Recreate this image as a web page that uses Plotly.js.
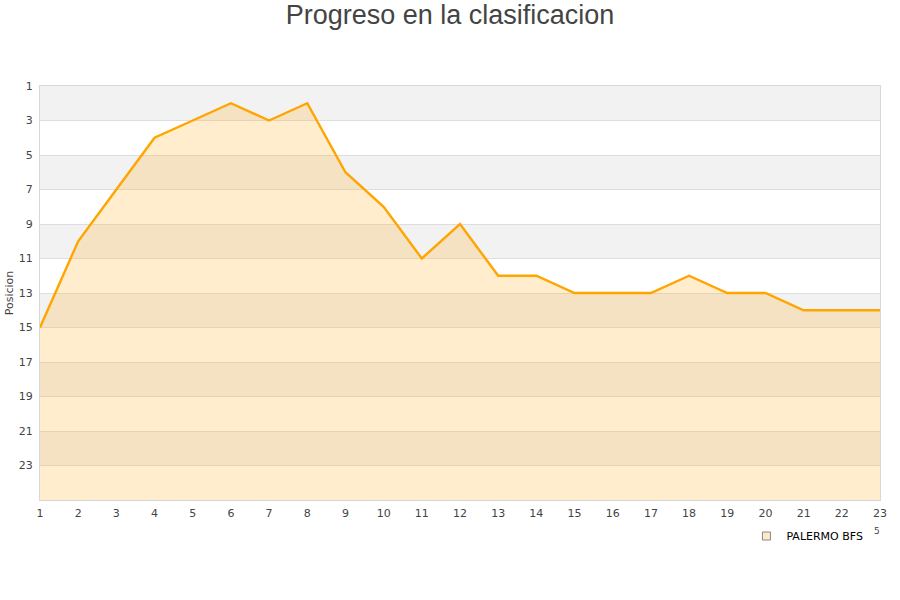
<!DOCTYPE html>
<html>
<head>
<meta charset="utf-8">
<script src="https://cdn.plot.ly/plotly-3.0.1.min.js"></script>
<style>
  html, body { margin: 0; padding: 0; background: #fff; }
  #chart { width: 900px; height: 600px; }
</style>
</head>
<body>
<div id="chart"></div>
<script>
// Jornadas y posiciones del equipo
const rounds = [1, 2, 3, 4, 5, 6, 7, 8, 9, 10, 11, 12, 13, 14, 15, 16, 17, 18, 19, 20, 21, 22, 23]
const positions = [15, 10, 7, 4, 3, 2, 3, 2, 6, 8, 11, 9, 12, 12, 13, 13, 13, 12, 13, 13, 14, 14, 14]
const teamName = "PALERMO BFS"
const yTicks = [1, 3, 5, 7, 9, 11, 13, 15, 17, 19, 21, 23]
const lastPosition = 25
const floorLine = [25, 25, 25, 25, 25, 25, 25, 25, 25, 25, 25, 25, 25, 25, 25, 25, 25, 25, 25, 25, 25, 25, 25]

// gray stripes every other band
const bands = []
for (let i = 0; i < yTicks.length; i += 2) {
    bands.push({
        type: "rect", xref: "paper", yref: "y", layer: "below",
        x0: 0, x1: 1, y0: yTicks[i], y1: yTicks[i] + 2,
        fillcolor: "#f2f2f2", line: { width: 0 }
    })
}

const base = {
    x: rounds,
    y: floorLine,
    type: "scatter",
    mode: "lines",
    line: { width: 0, color: "rgba(0,0,0,0)" },
    hoverinfo: "skip",
    showlegend: false
}

const trace = {
    x: rounds,
    y: positions,
    type: "scatter",
    mode: "lines",
    fill: "tonexty",
    fillcolor: "rgba(255,170,20,0.21)",
    line: { color: "#ffa500", width: 2.4 },
    name: teamName,
    showlegend: false
}

const legendItem = {
    x: [null],
    y: [null],
    type: "scatter",
    mode: "markers",
    name: teamName,
    marker: { symbol: "square", size: 8, color: "#fdebc8", line: { color: "#888", width: 1 } }
}

const layout = {
    width: 900,
    height: 600,
    paper_bgcolor: "#fff",
    plot_bgcolor: "#fff",
    font: { family: "DejaVu Sans, sans-serif", size: 11, color: "#444" },
    title: {
        text: "Progreso en la clasificacion",
        font: { family: "Liberation Sans, Arial, sans-serif", size: 27, color: "#444" },
        x: 0.5, xanchor: "center",
        y: 0.975, yref: "container", yanchor: "middle"
    },
    xaxis: {
        range: [1, 23],
        tickvals: rounds,
        showgrid: false,
        zeroline: false,
        showline: true,
        linecolor: "#d8d8d8",
        linewidth: 1,
        mirror: true,
        ticks: "",
        ticklabelstandoff: 3,
        tickfont: { size: 11, color: "#444" },
        fixedrange: true
    },
    yaxis: {
        range: [lastPosition, 1],
        tickvals: yTicks,
        showgrid: true,
        gridcolor: "#dedede",
        gridwidth: 1,
        zeroline: false,
        showline: true,
        linecolor: "#d8d8d8",
        linewidth: 1,
        mirror: true,
        ticks: "",
        ticklabelstandoff: 4,
        tickfont: { size: 11, color: "#444" },
        title: { text: "Posicion", font: { size: 11, color: "#444" }, standoff: 2 },
        fixedrange: true
    },
    shapes: bands,
    showlegend: true,
    legend: {
        orientation: "h",
        x: 0.841, xanchor: "left",
        y: -0.087, yanchor: "middle",
        font: { size: 11, color: "#000" },
        bgcolor: "rgba(0,0,0,0)"
    },
    annotations: [{
        text: "5", xref: "paper", yref: "paper",
        x: 0.996, y: -0.076, xanchor: "center", yanchor: "middle", showarrow: false,
        font: { size: 9, color: "#444" }
    }],
    margin: { l: 40, r: 20, t: 86, b: 100 },
    hovermode: "closest"
}

const config = { responsive: false, displayModeBar: false }

window.Plotly.newPlot("chart", [base, trace, legendItem], layout, config)
</script>
</body>
</html>
